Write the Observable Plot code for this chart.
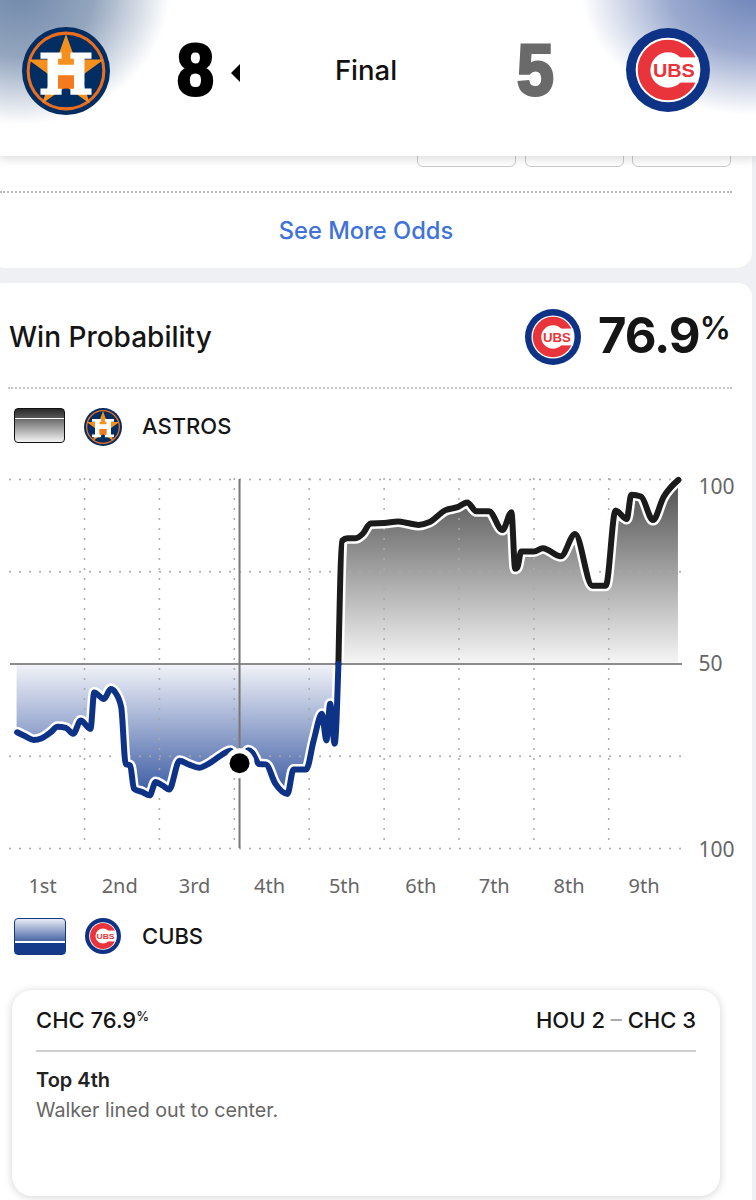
<!DOCTYPE html>
<html><head><meta charset="utf-8">
<script src="https://cdn.jsdelivr.net/npm/d3@7"></script>
<script src="https://cdn.jsdelivr.net/npm/@observablehq/plot@0.6"></script>
<style>
html,body{margin:0;padding:0;background:#eef0f3;}
#page{position:relative;width:756px;height:1200px;overflow:hidden;background:#eef0f3;font-family:"Inter","Noto Sans",sans-serif;color:#151515;}
.abs{position:absolute;white-space:nowrap;line-height:1;}
.logo{position:absolute;}
#chart{position:absolute;left:0;top:470px;}
#chart text{font-family:"Noto Sans",sans-serif;}
</style></head><body>
<div id="page">
  <div class="abs" style="left:-10px;top:100px;width:762px;height:168px;background:#fff;border-radius:0 0 16px 16px;"></div>
  <div class="abs" style="left:417px;top:150px;width:97px;height:15px;border:1.5px solid #c9c9c9;border-radius:6px;"></div>
  <div class="abs" style="left:525px;top:150px;width:97px;height:15px;border:1.5px solid #c9c9c9;border-radius:6px;"></div>
  <div class="abs" style="left:632px;top:150px;width:97px;height:15px;border:1.5px solid #c9c9c9;border-radius:6px;"></div>
  <div class="abs" style="left:0;top:191px;width:732px;border-top:2px dotted #b9b9b9;"></div>
  <div class="abs" style="left:0;top:0;width:756px;height:156px;background:
    radial-gradient(ellipse 150px 135px at 20px -10px,#6f88ab 0%,rgba(125,146,176,.82) 50%,rgba(255,255,255,0) 100%),
    radial-gradient(ellipse 175px 125px at 756px -10px,#6c83b8 0%,rgba(130,148,195,.8) 50%,rgba(255,255,255,0) 100%),#fff;box-shadow:0 3px 9px rgba(0,0,0,.14);"></div>
  <div class="abs" style="left:0;width:732px;text-align:center;top:219px;font-size:23.7px;font-weight:500;color:#3f73d8;">See More Odds</div>
  <div class="abs" style="left:-10px;top:283px;width:762px;height:940px;background:#fff;border-radius:14px;"></div>

  <div class="abs" style="left:177px;top:34px;font:bold 72px 'Liberation Sans',sans-serif;line-height:1;color:#000;-webkit-text-stroke:3px #000;transform:scaleX(.92);transform-origin:left;">8</div>
  <svg class="logo" style="left:230px;top:63px" width="12" height="20"><path d="M10 1V19L1 10Z" fill="#000"/></svg>
  <div class="abs" style="left:0;width:732px;text-align:center;top:57px;font-size:27.5px;font-weight:500;color:#111;">Final</div>
  <div class="abs" style="left:517px;top:34px;font:bold 72px 'Liberation Sans',sans-serif;line-height:1;color:#6a6a6a;-webkit-text-stroke:3px #6a6a6a;transform:scaleX(.92);transform-origin:left;">5</div>

  <div class="abs" style="left:9px;top:323px;font-size:28px;font-weight:500;color:#151515;">Win Probability</div>
  <div class="abs" style="left:598px;top:311px;font-size:49px;font-weight:700;color:#151515;letter-spacing:-1px;">76.9<span style="font-size:31px;vertical-align:14px;font-weight:600;letter-spacing:0;">%</span></div>
  <div class="abs" style="left:8px;top:387px;width:724px;border-top:2px dotted #c4c4c4;"></div>

  <div class="abs" style="left:14px;top:408px;width:49px;height:33px;border:1.5px solid #111;border-radius:4px;background:linear-gradient(#2a2a2a 0,#555 26%,#fff 26%,#fff 30%,#6a6a6a 30%,#f4f4f4 100%);"></div>
  <div class="abs" style="left:142px;top:415px;font-size:22px;font-weight:500;">ASTROS</div>

  <div id="chart"></div>

  <div class="abs" style="left:14px;top:918px;width:50px;height:35px;border:1px solid #16377f;border-radius:4px;background:linear-gradient(#e8ebf4 0,#4c68a8 62%,#fff 62%,#fff 68%,#163a8a 68%,#163a8a 100%);"></div>
  <div class="abs" style="left:142px;top:925px;font-size:22px;font-weight:500;">CUBS</div>

  <div class="abs" style="left:12px;top:990px;width:708px;height:206px;background:#fff;border-radius:20px;box-shadow:0 1px 8px rgba(0,0,0,.18);"></div>
  <div class="abs" style="left:36px;top:1009px;font-size:22px;font-weight:500;">CHC 76.9<span style="font-size:13px;vertical-align:7px;">%</span></div>
  <div class="abs" style="right:60px;top:1009px;font-size:22px;font-weight:500;">HOU 2 <span style="color:#aaa">–</span> CHC 3</div>
  <div class="abs" style="left:36px;top:1050px;width:660px;border-top:2px solid #cfcfcf;"></div>
  <div class="abs" style="left:36px;top:1070px;font-size:20px;font-weight:600;color:#222;">Top 4th</div>
  <div class="abs" style="left:36px;top:1101px;font-size:19.7px;color:#666;">Walker lined out to center.</div>
</div>
<script>
// Line below 50: the Cubs side of the chart
const cubsInning = [1.10,1.21,1.32,1.43,1.55,1.64,1.75,1.85,1.95,2.08,2.13,2.26,2.35,2.41,2.49,2.55,2.61,2.66,2.77,2.87,2.95,3.04,3.13,3.27,3.39,3.53,3.66,3.82,3.95,4.07,4.19,4.24,4.33,4.42,4.55,4.71,4.79,4.96,5.06,5.17,5.23,5.28,5.34,5.39];
const cubsValue  = [31.5,30.4,29.4,29.9,31.5,33.0,32.7,31.1,34.7,32.4,42.3,40.5,43.2,42.3,38.3,22.9,22.5,16.2,15.3,14.4,18.0,17.1,16.0,23.8,22.8,21.9,23.0,25.2,26.5,23.1,26.6,26.0,22.9,22.8,17.5,14.8,21.4,21.4,29.3,36.5,29.3,39.2,28.4,50];
// Line above 50: the Astros side of the chart
const astrosInning = [5.39,5.44,5.51,5.62,5.71,5.82,6.00,6.19,6.31,6.46,6.60,6.82,6.98,7.11,7.23,7.40,7.58,7.70,7.75,7.78,7.83,8.00,8.12,8.36,8.55,8.78,8.96,9.09,9.24,9.30,9.43,9.59,9.73,9.93];
const astrosValue  = [50,83.4,84.1,84.1,85.2,88.1,88.2,88.6,88.2,87.7,88.4,91.7,92.5,93.8,91.4,91.4,86.3,91.1,75.8,76.2,80.5,80.5,81.4,79.2,85.2,71.2,71.2,91.6,89.3,95.9,95.4,89.0,95.2,99.9];
const inningLabels = ["1st","2nd","3rd","4th","5th","6th","7th","8th","9th"];
const inningLabelAt = [1.44,2.47,3.47,4.47,5.47,6.49,7.47,8.47,9.47];
const inningLines = [2,3,4,5,6,7,8,9];
const gridLevels = [0,25,75,100];
const cursorInning = 4.07;
const cursorValue = 23.1;

const cubs = cubsInning.map((x,i)=>({x,y:cubsValue[i]}));
const astros = astrosInning.map((x,i)=>({x,y:astrosValue[i]}));
const cursor = [{x:cursorInning,y:cursorValue}];
const labelOf = new Map(inningLabelAt.map((x,i)=>[x,inningLabels[i]]));

function gradients(){
  const defs = d3.create("svg:defs");
  const add = (id,a,b)=>{
    const g = defs.append("linearGradient").attr("id",id).attr("x1",0).attr("x2",0).attr("y1",0).attr("y2",1);
    g.append("stop").attr("offset","0%").attr("stop-color",a);
    g.append("stop").attr("offset","100%").attr("stop-color",b);
  };
  add("gBlack","#4d4d4d","#f6f6f6");
  add("gBlue","#f3f4f9","#3a5aa3");
  return defs.node();
}
const dotted = {stroke:"#a9a9a9",strokeWidth:2,strokeDasharray:"0.1 9.9",strokeLinecap:"round"};
const curve = "monotone-x";
const chart = Plot.plot({
  width:756,height:435,
  marginLeft:10,marginRight:74,marginTop:9,marginBottom:57,
  style:{background:"transparent",overflow:"visible"},
  x:{domain:[1.012,9.984],label:null},
  y:{domain:[0,100],label:null},
  marks:[
    gradients,
    Plot.areaY(cubs,{x:"x",y1:50,y2:"y",fill:"url(#gBlue)",curve}),
    Plot.areaY(astros,{x:"x",y1:50,y2:"y",fill:"url(#gBlack)",curve}),
    Plot.ruleY(gridLevels,dotted),
    Plot.ruleX(inningLines,dotted),
    Plot.lineY(cubs,{x:"x",y:"y",stroke:"#fff",strokeWidth:11,curve,strokeLinejoin:"round"}),
    Plot.lineY(astros,{x:"x",y:"y",stroke:"#fff",strokeWidth:11,curve,strokeLinejoin:"round"}),
    Plot.ruleY([50],{stroke:"#8c8c8c",strokeWidth:2}),
    Plot.ruleX([cursorInning],{stroke:"#777",strokeWidth:2}),
    Plot.lineY(astros,{x:"x",y:"y",stroke:"#1b1b1b",strokeWidth:6,curve,strokeLinejoin:"round"}),
    Plot.lineY(cubs,{x:"x",y:"y",stroke:"#0e3386",strokeWidth:6,curve,strokeLinejoin:"round"}),
    Plot.dot(cursor,{x:"x",y:"y",r:15,fill:"#fff"}),
    Plot.dot(cursor,{x:"x",y:"y",r:10,fill:"#000"}),
    Plot.axisY([50],{anchor:"right",tickSize:0,tickPadding:16,fontSize:21,color:"#666",label:null,tickFormat:()=>"50"}),
    Plot.axisY([0],{anchor:"right",tickSize:0,tickPadding:16,fontSize:21,color:"#666",label:null,dy:2,tickFormat:()=>"100"}),
    Plot.axisY([100],{anchor:"right",tickSize:0,tickPadding:16,fontSize:21,color:"#666",label:null,dy:8,tickFormat:()=>"100"}),
    Plot.axisX(inningLabelAt,{anchor:"bottom",tickSize:0,tickPadding:30,fontSize:20,color:"#666",label:null,tickFormat:d=>labelOf.get(d)})
  ]
});
document.getElementById("chart").append(chart);

// Team badges
function astrosLogo(cx,cy,rx,ry){
  return `<svg class="logo" style="left:${cx-rx}px;top:${cy-ry}px" width="${2*rx}" height="${2*ry}" viewBox="-50 -50 100 100" preserveAspectRatio="none">
  <circle r="50" fill="#002d62"/><circle r="43" fill="none" stroke="#eb6e1f" stroke-width="3.5"/>
  <path d="M0-42 10.5-13 43-13 17 6 27 37 0 18-27 37-17 6-43-13-10.5-13Z" fill="#f4911e"/>
  <path d="M-29-21H-5V-14H-9V-7H9V-14H5V-21H29V-14H21V20H29V27H5V20H9V5H-9V20H-5V27H-29V20H-21V-14H-29Z" fill="#fff"/>
  <rect x="-9" y="5" width="18" height="15" fill="#f47a1e"/></svg>`;
}
function cubsLogo(cx,cy,rx,ry){
  return `<svg class="logo" style="left:${cx-rx}px;top:${cy-ry}px" width="${2*rx}" height="${2*ry}" viewBox="-50 -50 100 100" preserveAspectRatio="none">
  <circle r="50" fill="#0e3386"/><circle r="38.5" fill="#fff"/>
  <circle r="28.5" fill="none" stroke="#e8343a" stroke-width="15"/>
  <rect x="7" y="-15" width="29" height="30" fill="#fff"/>
  <text x="7" y="8.5" text-anchor="middle" font-family="Liberation Sans" font-weight="bold" font-size="22" textLength="50" lengthAdjust="spacingAndGlyphs" fill="#e8343a">UBS</text></svg>`;
}
const page = document.getElementById("page");
page.insertAdjacentHTML("beforeend",
  astrosLogo(66,71,44,44)+cubsLogo(668,70,42,42)+cubsLogo(553,337,28,28)+astrosLogo(103,427,19,19)+cubsLogo(103,936,18,18));
</script>
</body></html>
